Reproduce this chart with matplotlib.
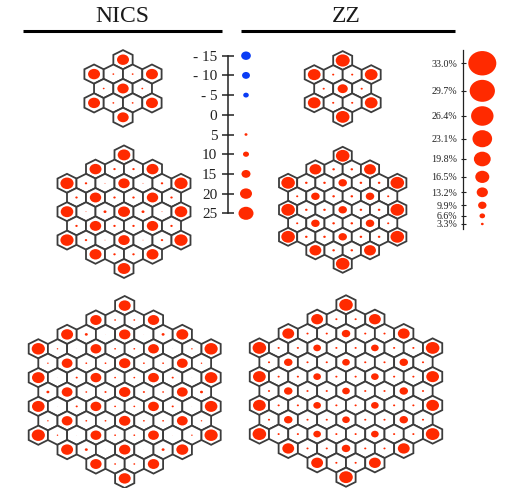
import numpy as np
import matplotlib
matplotlib.use('Agg')
import matplotlib.pyplot as plt
from matplotlib.collections import EllipseCollection
from matplotlib.patches import Polygon

plt.rcParams['font.family'] = ['Liberation Serif', 'DejaVu Serif']

W, H = 505, 488

# values per hexagon, row by row from the top of each flake
nics_small = [
    [20],
    [20, 3, 3, 20],
    [3, 19, 3],
    [20, 3, 3, 20],
    [19],
]
nics_mid = [
    [21],
    [20, 4, 4, 20],
    [22, 4, 1.5, 19, 1.5, 4, 22],
    [4, 19, 4, 4, 19, 4],
    [21, 1.5, 5, 20, 5, 1.5, 21],
    [4, 19, 4, 4, 19, 4],
    [22, 4, 1.5, 19, 1.5, 4, 22],
    [20, 4, 4, 20],
    [21],
]
nics_big = [
    [20],
    [19, 3, 3, 19],
    [20, 5, 0.5, 19, 0.5, 5, 20],
    [22, 2.5, 0.5, 18, 3, 3, 18, 0.5, 2.5, 22],
    [2.5, 18, 3, 3, 19, 3, 3, 18, 2.5],
    [21, 0.5, 3.5, 18, 3, 3, 18, 3.5, 0.5, 21],
    [5, 18, 3, 3.5, 19, 3.5, 3, 18, 5],
    [21, 0.5, 3.5, 18, 3, 3, 18, 3.5, 0.5, 21],
    [2.5, 18, 3, 3, 19, 3, 3, 18, 2.5],
    [22, 2.5, 0.5, 18, 3, 3, 18, 0.5, 2.5, 22],
    [20, 5, 0.5, 19, 0.5, 5, 20],
    [19, 3, 3, 19],
    [20],
]
zz_small = [
    [16.5],
    [15, 2.5, 2.5, 15],
    [2.5, 12, 2.5],
    [15, 2.5, 2.5, 15],
    [16],
]
zz_mid = [
    [16],
    [14, 3, 3, 14],
    [16, 3, 3, 10, 3, 3, 16],
    [2.5, 10, 3, 3, 10, 2.5],
    [16, 3, 3, 10, 3, 3, 16],
    [2.5, 10, 3, 3, 10, 2.5],
    [16, 3, 3, 10, 3, 3, 16],
    [14, 3, 3, 14],
    [16],
]
zz_big = [
    [16],
    [14, 2.5, 2.5, 14],
    [14, 2.5, 2.5, 10, 2.5, 2.5, 14],
    [16, 2.5, 2.5, 9, 2.5, 2.5, 9, 2.5, 2.5, 16],
    [2.5, 10, 2.5, 2.5, 9, 2.5, 2.5, 10, 2.5],
    [15, 2.5, 2.5, 9, 2.5, 2.5, 9, 2.5, 2.5, 15],
    [2.5, 10, 2.5, 2.5, 9, 2.5, 2.5, 10, 2.5],
    [15, 2.5, 2.5, 9, 2.5, 2.5, 9, 2.5, 2.5, 15],
    [2.5, 10, 2.5, 2.5, 9, 2.5, 2.5, 10, 2.5],
    [16, 2.5, 2.5, 9, 2.5, 2.5, 9, 2.5, 2.5, 16],
    [14, 2.5, 2.5, 10, 2.5, 2.5, 14],
    [14, 2.5, 2.5, 14],
    [16],
]

nics_ticks = [-15, -10, -5, 0, 5, 10, 15, 20, 25]
nics_labels = ['- 15', '- 10', '- 5', '0', '5', '10', '15', '20', '25']
zz_ticks = [33.0, 29.7, 26.4, 23.1, 19.8, 16.5, 13.2, 9.9, 6.6, 3.3]
zz_labels = ['33.0%', '29.7%', '26.4%', '23.1%', '19.8%', '16.5%', '13.2%', '9.9%', '6.6%', '3.3%']

RED = '#ff2a00'
BLUE = '#0a3cf5'
EDGE = '#3c3c3c'
ASPECT = 0.87  # the original picture is stretched sideways


def nics_size(v):
    v = np.asarray(v, dtype=float)
    return np.where(v < 0, 2.5 * np.sqrt(np.abs(v)), 0.6 * np.abs(v))


def zz_size(v):
    return 0.85 * np.asarray(v, dtype=float)


def dots(ax, x, y, size_px, colors):
    # size in pixels, independent of the axis scale
    size_px = np.asarray(size_px, dtype=float)
    ec = EllipseCollection(size_px * 0.72, size_px * 0.72 * ASPECT, np.zeros(len(size_px)),
                           units='points', offsets=np.column_stack([x, y]),
                           offset_transform=ax.transData, facecolors=colors, linewidths=0, zorder=3)
    ec.set_clip_on(False)
    ax.add_collection(ec)


def flake(ax, rows, cx, cy, dx, dy, size_func):
    R = dy / 1.5
    xs, ys, vals = [], [], []
    for r, row in enumerate(rows):
        y = cy + (r - (len(rows) - 1) / 2) * dy
        for i, v in enumerate(row):
            x = cx + (i - (len(row) - 1) / 2) * dx
            pts = [(x, y - R), (x + dx / 2, y - R / 2), (x + dx / 2, y + R / 2),
                   (x, y + R), (x - dx / 2, y + R / 2), (x - dx / 2, y - R / 2)]
            ax.add_patch(Polygon(pts, closed=True, facecolor='white', edgecolor=EDGE, linewidth=1.3, zorder=2))
            xs.append(x)
            ys.append(y)
            vals.append(v)
    dots(ax, xs, ys, size_func(vals), RED)


fig = plt.figure(figsize=(W / 100, H / 100), dpi=100)
ax = fig.add_axes([0, 0, 1, 1])
ax.set_xlim(0, W)
ax.set_ylim(H, 0)
ax.axis('off')

# Заголовки
ax.text(122, 16, 'NICS', fontsize=17, color='#1a1a1a', ha='center', va='center')
ax.text(346, 16, 'ZZ', fontsize=17, color='#1a1a1a', ha='center', va='center')
ax.plot([23, 222], [31, 31], color='black', lw=2.2, solid_capstyle='butt')
ax.plot([241, 455], [31, 31], color='black', lw=2.2, solid_capstyle='butt')

flake(ax, nics_small, 123, 88.5, 19.3, 14.4, nics_size)
flake(ax, nics_mid, 124, 211.7, 19.0, 14.2, nics_size)
flake(ax, nics_big, 124.7, 392, 19.2, 14.4, nics_size)
flake(ax, zz_small, 342.7, 88.7, 19.0, 14.1, zz_size)
flake(ax, zz_mid, 342.7, 209.8, 18.2, 13.5, zz_size)
flake(ax, zz_big, 346, 391, 19.25, 14.36, zz_size)


def sub_axes(left, right, top, bottom):
    a = fig.add_axes([left / W, 1 - bottom / H, (right - left) / W, (bottom - top) / H])
    a.patch.set_alpha(0)
    for s in ['top', 'right', 'bottom']:
        a.spines[s].set_visible(False)
    a.spines['left'].set_linewidth(1.1)
    a.spines['left'].set_color('#222222')
    a.set_xticks([])
    a.set_xlim(0, 1)
    return a


# Шкала NICS
ax_n = sub_axes(228.3, 263.7, 55.7, 213.3)
ax_n.set_ylim(25, -15)
ax_n.set_yticks(nics_ticks)
ax_n.set_yticklabels(nics_labels)
ax_n.tick_params(axis='y', direction='inout', length=8.6, width=1.1, pad=3.6, labelsize=11,
                 color='#222222', labelcolor='#222222')
nics_colors = [BLUE if v < 0 else RED for v in nics_ticks]
dots(ax_n, [0.5] * len(nics_ticks), nics_ticks, nics_size(nics_ticks), nics_colors)


# Шкала ZZ: деления сходятся к малым значениям
def zz_forward(v):
    u = np.asarray(v, dtype=float) - 3.3
    return 2.098 * u + 0.1116 * u ** 2


def zz_inverse(p):
    p = np.maximum(np.asarray(p, dtype=float), -9.8)
    return 3.3 + (-2.098 + np.sqrt(2.098 ** 2 + 4 * 0.1116 * p)) / (2 * 0.1116)


ax_z = sub_axes(462.7, 501.9, 50, 229)
ax_z.set_yscale('function', functions=(zz_forward, zz_inverse))
ax_z.set_ylim(float(zz_inverse(-5)), float(zz_inverse(174)))
ax_z.set_yticks(zz_ticks)
ax_z.set_yticklabels(zz_labels)
ax_z.minorticks_off()
ax_z.tick_params(axis='y', direction='inout', length=3.6, width=0.8, pad=2.2, labelsize=7.2,
                 color='#222222', labelcolor='#222222')
ax_z.spines['left'].set_linewidth(0.9)
dots(ax_z, [0.5] * len(zz_ticks), zz_ticks, zz_size(zz_ticks), RED)

fig.savefig('out.png', dpi=100)
